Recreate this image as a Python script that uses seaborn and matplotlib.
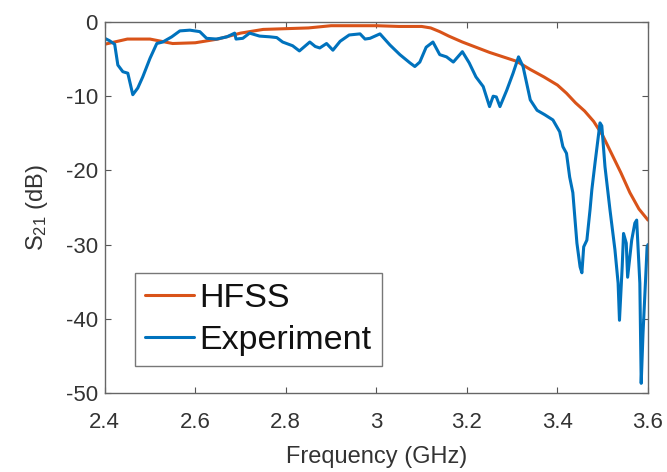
import numpy as np
import pandas as pd
import matplotlib
matplotlib.use("Agg")
import matplotlib.pyplot as plt
import seaborn as sns

# HFSS simulation (GHz, dB)
hfss_freq = [2.40, 2.45, 2.50, 2.55, 2.60, 2.65, 2.70, 2.75, 2.80, 2.85, 2.90, 2.95,
             3.00, 3.05, 3.10, 3.12, 3.14, 3.16, 3.19, 3.22, 3.25, 3.28, 3.31, 3.34,
             3.37, 3.40, 3.42, 3.44, 3.46, 3.48, 3.50, 3.52, 3.54, 3.56, 3.58, 3.60]
hfss_s21 = [-3.0, -2.3, -2.3, -2.9, -2.8, -2.3, -1.5, -1.0, -0.9, -0.8, -0.5, -0.5,
            -0.5, -0.6, -0.6, -0.8, -1.3, -1.9, -2.7, -3.4, -4.1, -4.7, -5.3, -6.4,
            -7.4, -8.5, -9.6, -10.9, -12.0, -13.4, -15.3, -17.8, -20.3, -23.0, -25.2, -26.7]

# Measured (GHz, dB)
exp_freq = [2.400, 2.410, 2.422, 2.429, 2.440, 2.451, 2.462, 2.473, 2.484, 2.500,
            2.515, 2.528, 2.548, 2.566, 2.588, 2.610, 2.625, 2.647, 2.670, 2.687,
            2.690, 2.705, 2.720, 2.742, 2.765, 2.780, 2.793, 2.815, 2.830, 2.853,
            2.865, 2.875, 2.890, 2.904, 2.920, 2.940, 2.964, 2.975, 2.986, 3.008,
            3.030, 3.052, 3.074, 3.085, 3.096, 3.110, 3.125, 3.140, 3.155, 3.170,
            3.190, 3.205, 3.220, 3.236, 3.250, 3.258, 3.265, 3.273, 3.288, 3.302,
            3.314, 3.324, 3.340, 3.355, 3.372, 3.390, 3.405, 3.412, 3.420, 3.427,
            3.434, 3.443, 3.450, 3.454, 3.458, 3.465, 3.472, 3.476, 3.483, 3.494,
            3.498, 3.505, 3.516, 3.527, 3.534, 3.537, 3.543, 3.546, 3.552, 3.555,
            3.564, 3.571, 3.575, 3.582, 3.585, 3.589, 3.596, 3.598, 3.600]
exp_s21 = [-2.2, -2.5, -3.0, -5.8, -6.7, -6.9, -9.8, -8.9, -7.4, -4.9,
           -2.9, -2.7, -2.0, -1.2, -1.1, -1.3, -2.2, -2.3, -2.0, -1.5,
           -2.3, -2.2, -1.5, -1.9, -2.0, -2.1, -2.7, -3.2, -3.9, -2.7,
           -3.3, -3.5, -2.9, -3.8, -2.6, -1.75, -1.6, -2.3, -2.2, -1.6,
           -3.1, -4.4, -5.5, -6.0, -5.4, -3.4, -2.7, -4.4, -4.7, -5.4,
           -4.0, -5.5, -7.4, -8.7, -11.4, -10.0, -10.1, -11.4, -9.2, -6.9,
           -4.7, -6.0, -10.5, -11.9, -12.5, -13.2, -14.8, -16.8, -17.7, -20.9,
           -23.0, -29.8, -33.0, -33.8, -30.3, -29.4, -25.3, -22.6, -19.0, -13.6,
           -14.0, -19.5, -25.3, -30.7, -35.2, -40.2, -33.0, -28.5, -29.8, -34.4,
           -29.4, -27.1, -26.7, -35.2, -48.7, -42.0, -33.0, -30.3, -30.0]

series_names = ["HFSS", "Experiment"]
x_ticks = [2.4, 2.6, 2.8, 3.0, 3.2, 3.4, 3.6]
x_tick_labels = ["2.4", "2.6", "2.8", "3", "3.2", "3.4", "3.6"]
y_ticks = [-50, -40, -30, -20, -10, 0]
y_tick_labels = ["-50", "-40", "-30", "-20", "-10", "0"]

df = pd.concat([
    pd.DataFrame({"freq": hfss_freq, "s21": hfss_s21, "series": series_names[0]}),
    pd.DataFrame({"freq": exp_freq, "s21": exp_s21, "series": series_names[1]}),
], ignore_index=True)

sns.set_theme(style="ticks")
plt.rcParams["font.family"] = ["Liberation Sans", "DejaVu Sans"]
plt.rcParams["mathtext.default"] = "regular"
plt.rcParams["axes.unicode_minus"] = False

fig = plt.figure(figsize=(6.67, 4.72), dpi=100)
ax = fig.add_axes([0.157, 0.1674, 0.8145, 0.786])

sns.lineplot(data=df, x="freq", y="s21", hue="series", hue_order=series_names,
             palette=["#D95319", "#0072BD"], linewidth=2.2, estimator=None,
             sort=True, ax=ax)

ax.set_xlim(2.4, 3.6)
ax.set_ylim(-50, 0)
ax.set_xticks(x_ticks)
ax.set_xticklabels(x_tick_labels)
ax.set_yticks(y_ticks)
ax.set_yticklabels(y_tick_labels)
ax.tick_params(direction="in", top=True, right=True, length=4, width=0.8,
               colors="#555555", labelcolor="#333333", labelsize=16)
ax.tick_params(axis="x", pad=14)
ax.tick_params(axis="y", pad=5)
for s in ax.spines.values():
    s.set_color("#666666")
    s.set_linewidth(1.0)

ax.set_xlabel("Frequency (GHz)", fontsize=17, color="#333333", labelpad=9)
ax.set_ylabel("S$_{21}$ (dB)", fontsize=17, color="#333333", labelpad=11)

leg = ax.legend(loc="lower left", bbox_to_anchor=(0.055, 0.073), borderaxespad=0,
                fontsize=24.5, handlelength=1.45, handletextpad=0.15,
                labelspacing=0.32, borderpad=0.3, fancybox=False, frameon=True)
leg.get_frame().set_edgecolor("#555555")
leg.get_frame().set_linewidth(1.0)
for t in leg.get_texts():
    t.set_color("#111111")

fig.savefig("out.png", dpi=100, facecolor="white")
